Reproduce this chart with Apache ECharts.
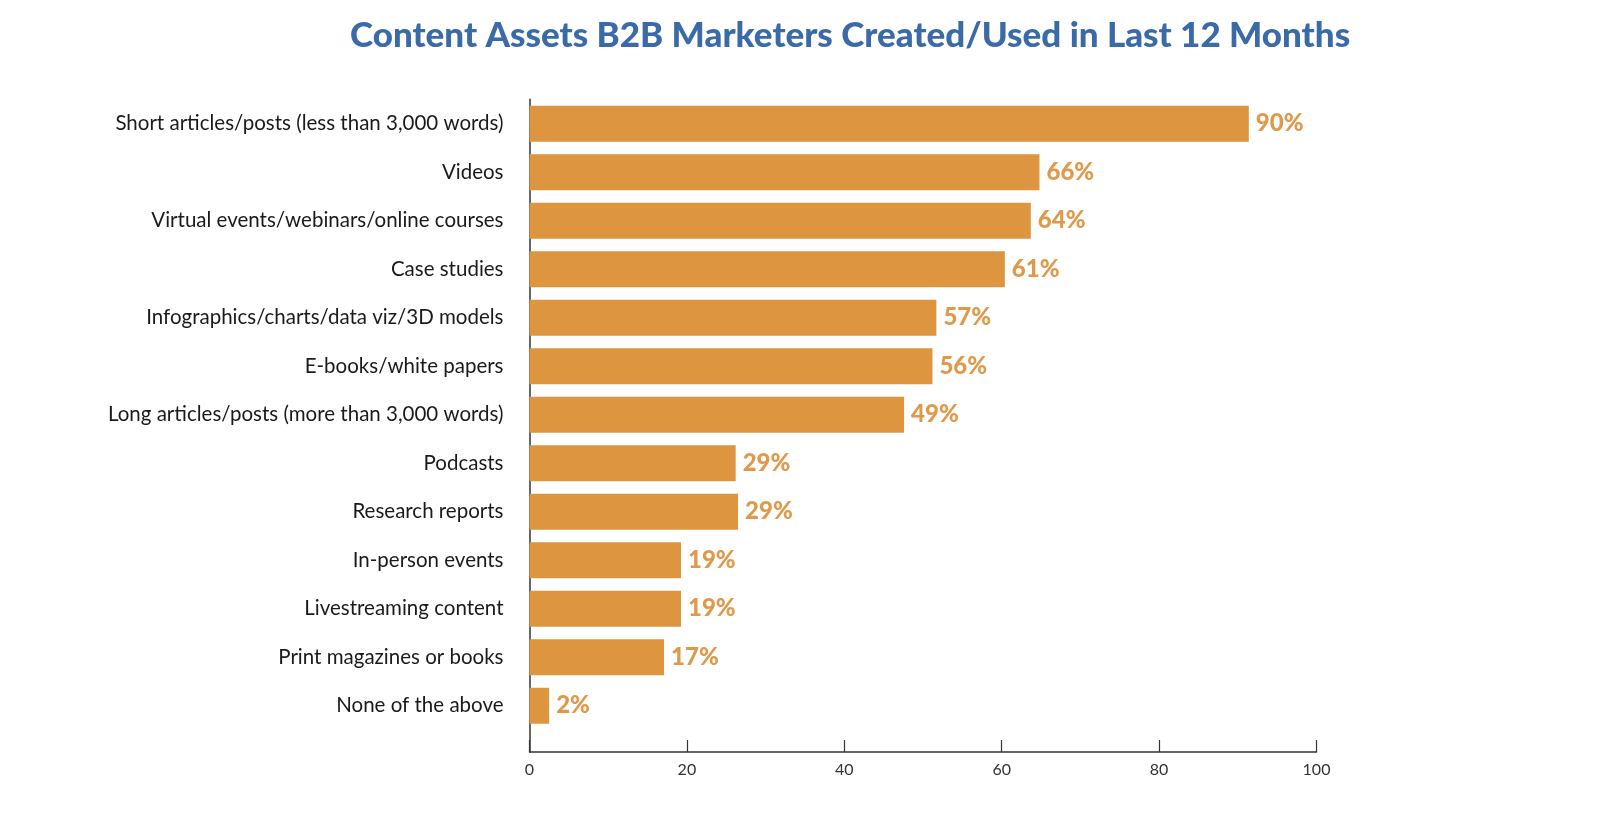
<!DOCTYPE html>
<html>
<head>
<meta charset="utf-8">
<script src="https://cdn.jsdelivr.net/npm/echarts@6/dist/echarts.min.js"></script>
<style>html,body{margin:0;padding:0;background:#fff;}#c{width:1600px;height:814px;}</style>
</head>
<body>
<div id="c"></div>
<script>
const titleText = 'Content Assets B2B Marketers Created/Used in Last 12 Months';
const categories = [
  'Short articles/posts (less than 3,000 words)',
  'Videos',
  'Virtual events/webinars/online courses',
  'Case studies',
  'Infographics/charts/data viz/3D models',
  'E-books/white papers',
  'Long articles/posts (more than 3,000 words)',
  'Podcasts',
  'Research reports',
  'In-person events',
  'Livestreaming content',
  'Print magazines or books',
  'None of the above'
];
// bar lengths as drawn in the picture
const barValues = [91.4, 64.8, 63.7, 60.4, 51.7, 51.2, 47.6, 26.2, 26.5, 19.25, 19.25, 17.1, 2.5];
// printed value labels
const labelValues = [90, 66, 64, 61, 57, 56, 49, 29, 29, 19, 19, 17, 2];
const xTicks = [0, 20, 40, 60, 80, 100];

const chart = echarts.init(document.getElementById('c'));
const GL = 529.5, GR = 283.5;
chart.setOption({
  backgroundColor: '#ffffff',
  animation: false,
  title: {
    text: titleText,
    left: 345, top: 13,
    textStyle: { fontFamily: 'Lato', fontWeight: 900, fontSize: 35, color: '#3A6AA8' }
  },
  grid: [
    { left: GL, right: GR, top: 99.5, bottom: 84 },
    { left: GL, right: GR, top: 99.5, bottom: 62 }
  ],
  xAxis: [
    { gridIndex: 0, type: 'value', min: 0, max: 100, show: false },
    { gridIndex: 1, type: 'value', min: xTicks[0], max: xTicks[xTicks.length - 1], interval: 20,
      axisLine: { show: true, onZero: false, lineStyle: { color: '#333', width: 1.5 } },
      axisTick: { show: true, inside: true, length: 12, lineStyle: { color: '#333', width: 1.2 } },
      axisLabel: { fontFamily: 'Lato', fontSize: 16, color: '#333', margin: 10 },
      splitLine: { show: false } }
  ],
  yAxis: [
    { gridIndex: 0, type: 'category', data: categories, inverse: true,
      axisLine: { show: false }, axisTick: { show: false },
      axisLabel: { fontFamily: 'Lato', fontSize: 20.5, color: '#1a1a1a', margin: 26 } },
    { gridIndex: 1, type: 'value', min: 0, max: 1,
      axisLine: { show: true, onZero: false, lineStyle: { color: '#666', width: 2 } },
      axisTick: { show: false }, axisLabel: { show: false }, splitLine: { show: false } }
  ],
  series: [{
    type: 'bar',
    xAxisIndex: 0, yAxisIndex: 0,
    data: barValues,
    barWidth: 36,
    itemStyle: { color: '#DD963F' },
    label: {
      show: true, position: 'right', distance: 7,
      formatter: p => labelValues[p.dataIndex] + '%',
      fontFamily: 'Lato', fontWeight: 900, fontSize: 24, color: '#E0994A'
    }
  }]
});
</script>
</body>
</html>
